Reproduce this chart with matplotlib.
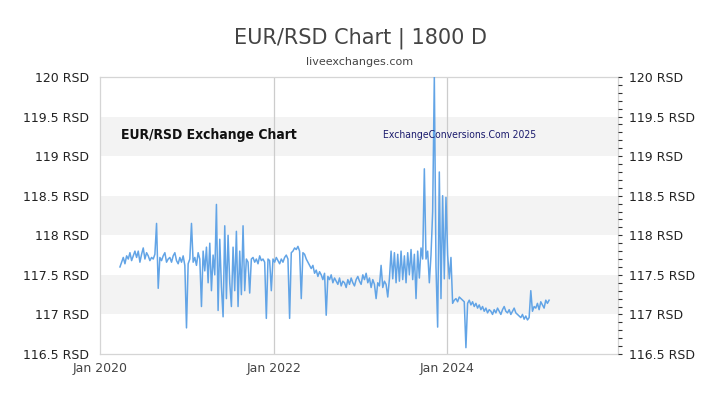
import matplotlib
matplotlib.use('Agg')
import matplotlib.pyplot as plt
import matplotlib.dates as mdates
from matplotlib.ticker import MultipleLocator, FuncFormatter
import pandas as pd

title = 'EUR/RSD Chart | 1800 D'
subtitle = 'liveexchanges.com'
start_date = '2020-03-25'

# weekly EUR/RSD readings
rates = [
    117.60, 117.66, 117.72, 117.64, 117.74, 117.70, 117.78, 117.68, 117.74, 117.80,
    117.72, 117.80, 117.66, 117.76, 117.84, 117.70, 117.78, 117.74, 117.68, 117.72,
    117.70, 117.76, 118.15, 117.33, 117.72, 117.68, 117.74, 117.78, 117.66, 117.70,
    117.72, 117.66, 117.74, 117.78, 117.68, 117.64, 117.72, 117.66, 117.74, 117.62,
    116.83, 117.64, 117.70, 118.15, 117.66, 117.72, 117.62, 117.78, 117.70, 117.10,
    117.80, 117.55, 117.85, 117.40, 117.90, 117.30, 117.75, 117.50, 118.39, 117.05,
    117.95, 117.35, 116.97, 118.12, 117.20, 118.00, 117.40, 117.10, 117.85, 117.30,
    118.05, 117.10, 117.80, 117.25, 118.12, 117.30, 117.70, 117.66, 117.27, 117.70,
    117.72, 117.66, 117.70, 117.64, 117.74, 117.68, 117.70, 117.66, 116.95, 117.70,
    117.68, 117.30, 117.70, 117.66, 117.72, 117.68, 117.64, 117.70, 117.66, 117.72,
    117.75, 117.70, 116.95, 117.78, 117.80, 117.84, 117.82, 117.86, 117.80, 117.20,
    117.78, 117.76, 117.70, 117.66, 117.62, 117.58, 117.62, 117.52, 117.56, 117.48,
    117.54, 117.50, 117.44, 117.52, 116.99, 117.48, 117.44, 117.50, 117.40, 117.46,
    117.42, 117.38, 117.46, 117.36, 117.42, 117.40, 117.34, 117.44, 117.38, 117.46,
    117.40, 117.36, 117.44, 117.48, 117.42, 117.38, 117.50, 117.44, 117.52, 117.40,
    117.46, 117.34, 117.44, 117.38, 117.20, 117.40, 117.36, 117.62, 117.34, 117.42,
    117.38, 117.22, 117.45, 117.80, 117.45, 117.78, 117.40, 117.76, 117.42, 117.80,
    117.44, 117.74, 117.40, 117.78, 117.50, 117.82, 117.44, 117.76, 117.20, 117.80,
    117.46, 117.84, 117.70, 118.84, 117.70, 117.80, 117.40, 117.75, 118.30, 120.00,
    117.60, 116.84, 118.80, 117.20, 118.50, 117.45, 118.48, 117.75, 117.45, 117.72,
    117.14, 117.18, 117.20, 117.16, 117.22, 117.20, 117.18, 117.16, 116.58, 117.14,
    117.18, 117.12, 117.16, 117.10, 117.14, 117.08, 117.12, 117.06, 117.10, 117.04,
    117.08, 117.02, 117.06, 117.04, 117.00, 117.06, 117.02, 117.08, 117.04, 117.00,
    117.06, 117.10, 117.04, 117.02, 117.06, 117.00, 117.04, 117.08, 117.02, 117.00,
    116.98, 116.96, 117.00, 116.94, 116.98, 116.93, 116.96, 117.30, 117.04, 117.10,
    117.08, 117.14, 117.06, 117.16, 117.12, 117.08, 117.18, 117.14, 117.18,
]

bands = [(117.0, 117.5), (118.0, 118.5), (119.0, 119.5)]
year_lines = ['2022-01-01', '2024-01-01']
x_ticks = ['2020-01-01', '2022-01-01', '2024-01-01']
y_min, y_max = 116.5, 120.0

dates = pd.date_range(start_date, periods=len(rates), freq='7D')

fig = plt.figure(figsize=(7.2, 4.05), dpi=100)
ax = fig.add_axes([100/720, 1 - 354/405, 518/720, 277/405])

for lo, hi in bands:
    ax.axhspan(lo, hi, color='#f3f3f3', lw=0, zorder=0)
for d in year_lines:
    ax.axvline(pd.Timestamp(d), color='#cccccc', lw=0.9, zorder=1)

ax.plot(dates, rates, color='#62a4e6', lw=1.1, zorder=3)

ax.set_xlim(pd.Timestamp('2020-01-01'), pd.Timestamp('2025-12-20'))
ax.set_ylim(y_min, y_max)

rsd = FuncFormatter(lambda v, p: ('%g RSD' % round(v, 1)))
ax.yaxis.set_major_locator(MultipleLocator(0.5))
ax.yaxis.set_major_formatter(rsd)
ax.tick_params(axis='y', length=0, labelsize=9, labelcolor='#222222', pad=8)

ax.set_xticks([pd.Timestamp(t) for t in x_ticks])
ax.xaxis.set_major_formatter(mdates.DateFormatter('%b %Y'))
ax.tick_params(axis='x', length=0, labelsize=9, labelcolor='#444444', pad=6)

for s in ax.spines.values():
    s.set_color('#d5d5d5')
    s.set_linewidth(0.9)

ax2 = ax.twinx()
ax2.set_ylim(y_min, y_max)
ax2.yaxis.set_major_locator(MultipleLocator(0.5))
ax2.yaxis.set_minor_locator(MultipleLocator(0.1))
ax2.yaxis.set_major_formatter(rsd)
ax2.tick_params(axis='y', which='major', length=3, width=0.8, color='#333333',
                labelsize=9, labelcolor='#222222', pad=5)
ax2.tick_params(axis='y', which='minor', length=3, width=0.8, color='#333333')
for s in ax2.spines.values():
    s.set_visible(False)

ax.text(0.04, 0.79, 'EUR/RSD Exchange Chart', transform=ax.transAxes,
        fontsize=10, fontweight='bold', family='DejaVu Sans', fontstretch='condensed',
        color='#111111', va='center', ha='left', zorder=4)
ax.text(0.546, 0.79, 'ExchangeConversions.Com 2025', transform=ax.transAxes,
        fontsize=7.5, family='DejaVu Sans', fontstretch='condensed', color='#1c1c6e',
        va='center', ha='left', zorder=4)

fig.text(0.5, 1 - 38/405, title, ha='center', va='center', fontsize=15, color='#444444')
fig.text(0.5, 1 - 62/405, subtitle, ha='center', va='center', fontsize=8, color='#444444')

fig.savefig('out.png', dpi=100)
